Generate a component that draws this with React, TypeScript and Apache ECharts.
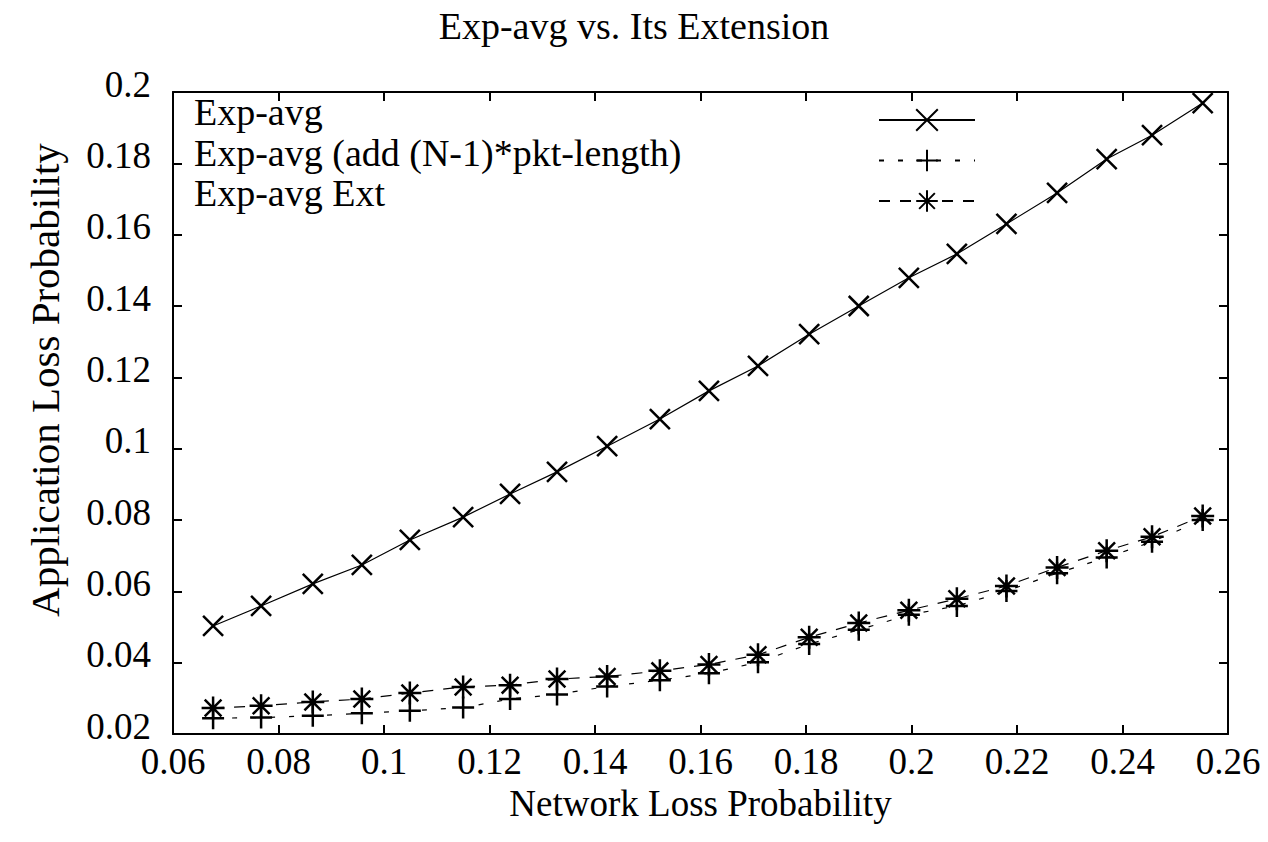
import React, { useEffect, useRef } from "react";
import * as echarts from "echarts";

const TITLE = "Exp-avg vs. Its Extension";
const X_NAME = "Network Loss Probability";
const Y_NAME = "Application Loss Probability";
const SERIES_NAMES = ["Exp-avg", "Exp-avg (add (N-1)*pkt-length)", "Exp-avg Ext"];

const networkLoss = [
  0.0676, 0.0767, 0.0865, 0.0958, 0.1049, 0.115, 0.1239, 0.1328, 0.1423, 0.1523, 0.1616,
  0.1709, 0.1806, 0.19, 0.1995, 0.2086, 0.218, 0.2276, 0.237, 0.2456, 0.2552,
];
const expAvg = [
  0.0503, 0.0559, 0.0621, 0.0674, 0.0744, 0.0808, 0.0873, 0.0935, 0.1007, 0.1083, 0.1162,
  0.1232, 0.1321, 0.14, 0.1479, 0.1546, 0.163, 0.1717, 0.1812, 0.1879, 0.1969,
];
const expAvgAdd = [
  0.0244, 0.0246, 0.0251, 0.0258, 0.0265, 0.0274, 0.0298, 0.0311, 0.0333, 0.0351, 0.037,
  0.0401, 0.0452, 0.0492, 0.0534, 0.0559, 0.0601, 0.0651, 0.0695, 0.0739, 0.08,
];
const expAvgExt = [
  0.0273, 0.0279, 0.029, 0.0298, 0.0315, 0.0332, 0.0337, 0.0354, 0.0361, 0.0377, 0.0395,
  0.0422, 0.0471, 0.0511, 0.0547, 0.0579, 0.0615, 0.0667, 0.0714, 0.0753, 0.0811,
];

const X_MIN = 0.06, X_MAX = 0.26, X_STEP = 0.02;
const Y_MIN = 0.02, Y_MAX = 0.2, Y_STEP = 0.02;

const FONT = "'Liberation Serif', 'Times New Roman', Times, serif";

const SYM_X = "path://M0 0L20 20M20 0L0 20";
const SYM_PLUS = "path://M11 0V22M0 11H22";
const SYM_STAR = "path://M11 0V22M0 11H22M3 3L19 19M19 3L3 19";

const fmt = (v: number) => String(+v.toFixed(2));

export default function App() {
  const ref = useRef<HTMLDivElement>(null);
  useEffect(() => {
    if (!ref.current) return;
    const chart = echarts.init(ref.current, null, { renderer: "svg" });
    const pairs = (ys: number[]) => networkLoss.map((x, i) => [x, ys[i]]);
    const mkSeries = (name: string, ys: number[], symbol: string, size: number, lineType: any) => ({
      name,
      type: "line",
      data: pairs(ys),
      xAxisIndex: 0,
      yAxisIndex: 0,
      symbol,
      symbolSize: size,
      showAllSymbol: true,
      lineStyle: { color: "#000", width: 1.2, type: lineType },
      itemStyle: { color: "none", borderColor: "#000", borderWidth: 2.5 },
      emphasis: { disabled: true },
      z: 3,
    });
    const axisLineStyle = { color: "#000", width: 2 };
    chart.setOption({
      animation: false,
      backgroundColor: "#fff",
      title: {
        text: TITLE,
        left: "center",
        top: 7,
        padding: 0,
        textStyle: { fontFamily: FONT, fontSize: 38, fontWeight: "normal", color: "#000" },
      },
      legend: {
        orient: "vertical",
        left: 194,
        top: 93,
        padding: 0,
        align: "right",
        itemWidth: 96,
        itemHeight: 27,
        itemGap: -13.5,
        selectedMode: false,
        data: SERIES_NAMES,
        formatter: (name: string) => `{a|${name}}`,
        textStyle: {
          color: "#000",
          rich: {
            a: {
              fontFamily: FONT,
              fontSize: 38,
              lineHeight: 36,
              width: 680,
              align: "left",
              color: "#000",
              padding: [0, 0, 16, 0],
            },
          },
        },
      },
      grid: { left: 173, right: 40, top: 92, bottom: 108, containLabel: false },
      xAxis: [
        {
          type: "value",
          min: X_MIN,
          max: X_MAX,
          interval: X_STEP,
          name: X_NAME,
          nameLocation: "middle",
          nameGap: 39,
          nameTextStyle: { fontFamily: FONT, fontSize: 37, color: "#000" },
          axisLine: { show: true, lineStyle: axisLineStyle },
          axisTick: { show: true, inside: true, length: 9, lineStyle: axisLineStyle },
          axisLabel: {
            margin: 9,
            fontFamily: FONT,
            fontSize: 37,
            color: "#000",
            formatter: fmt,
          },
          splitLine: { show: false },
        },
        {
          type: "value",
          position: "top",
          min: X_MIN,
          max: X_MAX,
          interval: X_STEP,
          axisLine: { show: true, lineStyle: axisLineStyle },
          axisTick: { show: true, inside: true, length: 9, lineStyle: axisLineStyle },
          axisLabel: { show: false },
          splitLine: { show: false },
        },
      ],
      yAxis: [
        {
          type: "value",
          min: Y_MIN,
          max: Y_MAX,
          interval: Y_STEP,
          name: Y_NAME,
          nameLocation: "middle",
          nameRotate: 90,
          nameGap: 108,
          nameTextStyle: {
            fontFamily: FONT,
            fontSize: 41,
            color: "#000",
            padding: [0, 0, 0, 66],
          },
          axisLine: { show: true, lineStyle: axisLineStyle },
          axisTick: { show: true, inside: true, length: 9, lineStyle: axisLineStyle },
          axisLabel: {
            margin: 22,
            color: "#000",
            formatter: (v: number) => `{t|${fmt(v)}}`,
            rich: {
              t: {
                fontFamily: FONT,
                fontSize: 37,
                color: "#000",
                padding: [0, 0, 16, 0],
              },
            },
          },
          splitLine: { show: false },
        },
        {
          type: "value",
          position: "right",
          min: Y_MIN,
          max: Y_MAX,
          interval: Y_STEP,
          axisLine: { show: true, lineStyle: axisLineStyle },
          axisTick: { show: true, inside: true, length: 9, lineStyle: axisLineStyle },
          axisLabel: { show: false },
          splitLine: { show: false },
        },
      ],
      series: [
        mkSeries(SERIES_NAMES[0], expAvg, SYM_X, 20, "solid"),
        mkSeries(SERIES_NAMES[1], expAvgAdd, SYM_PLUS, 22, [5, 14]),
        mkSeries(SERIES_NAMES[2], expAvgExt, SYM_STAR, 23, [11, 10]),
      ],
    });
    return () => chart.dispose();
  }, []);
  return (
    <div
      ref={ref}
      style={{ position: "fixed", left: 0, top: 0, width: 1268, height: 842, background: "#fff" }}
    />
  );
}
